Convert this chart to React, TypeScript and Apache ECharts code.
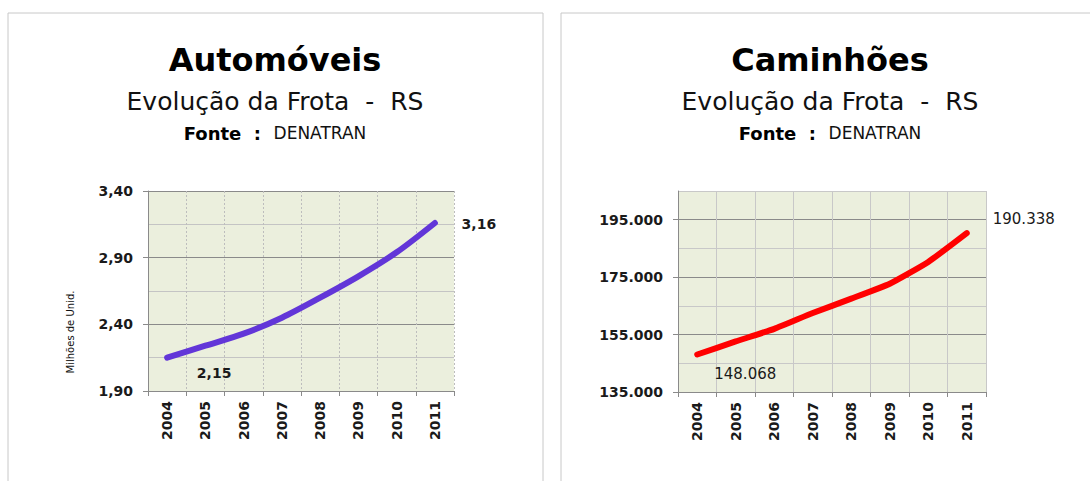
import React, { useEffect, useRef } from 'react';
import * as echarts from 'echarts';

const years = ['2004', '2005', '2006', '2007', '2008', '2009', '2010', '2011'];
const autoValues = [2.15, 2.24, 2.33, 2.45, 2.6, 2.76, 2.94, 3.16];
const truckValues = [148068, 152600, 157000, 162500, 167500, 172700, 180300, 190338];
const autoTickValues = [1.9, 2.4, 2.9, 3.4];
const truckTickValues = [135000, 155000, 175000, 195000];
const autoTitle = 'Automóveis';
const truckTitle = 'Caminhões';
const subtitleText = 'Evolução da Frota  -  RS';
const sourceLabel = 'Fonte';
const sourceName = 'DENATRAN';
const autoAxisName = 'Milhões de Unid.';

const FONT = '"DejaVu Sans", Verdana, sans-serif';

const fmtDec = (v: number) => v.toFixed(2).replace('.', ',');
const fmtThousands = (v: number) => {
  const s = Math.round(v).toString();
  return s.replace(/\B(?=(\d{3})+(?!\d))/g, '.');
};

function titleBlock(cx: number, title: string) {
  return [
    {
      type: 'text',
      x: cx,
      y: 60,
      style: {
        text: title,
        font: `bold 32px ${FONT}`,
        fill: '#000',
        textAlign: 'center',
        textVerticalAlign: 'middle',
        align: 'center',
        verticalAlign: 'middle',
      },
    },
    {
      type: 'text',
      x: cx,
      y: 101,
      style: {
        text: subtitleText,
        font: `25px ${FONT}`,
        fill: '#111',
        textAlign: 'center',
        textVerticalAlign: 'middle',
        align: 'center',
        verticalAlign: 'middle',
      },
    },
    {
      type: 'text',
      x: cx,
      y: 133,
      style: {
        text: `{b|${sourceLabel}}{b|  :  }{r|${sourceName}}`,
        textAlign: 'center',
        textVerticalAlign: 'middle',
        align: 'center',
        verticalAlign: 'middle',
        rich: {
          b: { fontFamily: FONT, fontWeight: 'bold', fontSize: 18, fill: '#000', color: '#000' },
          r: { fontFamily: FONT, fontSize: 17, fill: '#111', color: '#111' },
        },
      },
    },
  ];
}

function edgeLabels(values: number[], fmt: (v: number) => string, first: number[], last: number[], font: any) {
  return values.map((v, i) => {
    if (i === 0 || i === values.length - 1) {
      return {
        value: v,
        label: {
          show: true,
          position: 'inside',
          offset: i === 0 ? first : last,
          formatter: () => fmt(v),
          ...font,
        },
      };
    }
    return { value: v };
  });
}

export default function App() {
  const ref = useRef<HTMLDivElement>(null);

  useEffect(() => {
    if (!ref.current) return;
    const chart = echarts.init(ref.current, null, { renderer: 'svg' });

    const xAxisBase = (gridIndex: number, dotted: boolean) => ({
      type: 'category',
      gridIndex,
      data: years,
      boundaryGap: true,
      axisLine: { show: true, lineStyle: { color: '#8a8a8a', width: 1 } },
      axisTick: { show: true, length: 5, lineStyle: { color: '#8a8a8a' } },
      axisLabel: {
        rotate: 90,
        margin: 10,
        color: '#1a1a1a',
        fontFamily: FONT,
        fontWeight: 'bold',
        fontSize: 14,
      },
      splitLine: {
        show: true,
        lineStyle: dotted
          ? { color: '#bdbdbd', type: [2, 2], width: 1 }
          : { color: '#c8c8c8', type: 'solid', width: 1 },
      },
    });

    const option: any = {
      animation: false,
      backgroundColor: '#ffffff',
      graphic: [
        {
          type: 'rect',
          shape: { x: 8, y: 13, width: 535, height: 490 },
          style: { fill: 'none', stroke: '#c8c8c8', lineWidth: 1 },
          z: -10,
        },
        {
          type: 'rect',
          shape: { x: 561, y: 13, width: 560, height: 490 },
          style: { fill: 'none', stroke: '#c8c8c8', lineWidth: 1 },
          z: -10,
        },
        ...titleBlock(275, autoTitle),
        ...titleBlock(830, truckTitle),
        {
          type: 'text',
          x: 70,
          y: 332,
          rotation: Math.PI / 2,
          style: {
            text: autoAxisName,
            font: `10px ${FONT}`,
            fill: '#111',
            textAlign: 'center',
            textVerticalAlign: 'middle',
            align: 'center',
            verticalAlign: 'middle',
          },
        },
      ],
      grid: [
        {
          left: 148,
          top: 191,
          width: 306,
          height: 200,
          show: true,
          backgroundColor: '#ebefdd',
          borderWidth: 0,
        },
        {
          left: 678,
          top: 191,
          width: 308,
          height: 201,
          show: true,
          backgroundColor: '#ebefdd',
          borderWidth: 0,
        },
      ],
      xAxis: [xAxisBase(0, true), xAxisBase(1, false)],
      yAxis: [
        {
          type: 'value',
          gridIndex: 0,
          position: 'left',
          min: 1.9,
          max: 3.4,
          interval: 0.25,
          axisLine: { show: false },
          axisTick: { show: false },
          axisLabel: { show: false },
          splitLine: { show: true, lineStyle: { color: ['#8a8a8a', '#c4c4c4'], width: 1 } },
        },
        {
          type: 'value',
          gridIndex: 0,
          position: 'left',
          offset: 0,
          min: 1.9,
          max: 3.4,
          interval: 0.5,
          axisLine: { show: true, lineStyle: { color: '#8a8a8a', width: 1 } },
          axisTick: { show: true, length: 5, lineStyle: { color: '#8a8a8a' }, customValues: autoTickValues },
          axisLabel: {
            margin: 15,
            color: '#1a1a1a',
            fontFamily: FONT,
            fontWeight: 'bold',
            fontSize: 14,
            customValues: autoTickValues,
            formatter: (v: number) => fmtDec(v),
          },
          splitLine: { show: false },
        },
        {
          type: 'value',
          gridIndex: 1,
          position: 'left',
          min: 135000,
          max: 205000,
          interval: 10000,
          axisLine: { show: false },
          axisTick: { show: false },
          axisLabel: { show: false },
          splitLine: { show: true, lineStyle: { color: ['#8a8a8a', '#c8c8c8'], width: 1 } },
        },
        {
          type: 'value',
          gridIndex: 1,
          position: 'left',
          offset: 0,
          min: 135000,
          max: 205000,
          interval: 20000,
          axisLine: { show: true, lineStyle: { color: '#8a8a8a', width: 1 } },
          axisTick: { show: true, length: 5, lineStyle: { color: '#8a8a8a' }, customValues: truckTickValues },
          axisLabel: {
            margin: 15,
            color: '#1a1a1a',
            fontFamily: FONT,
            fontWeight: 'bold',
            fontSize: 14,
            customValues: truckTickValues,
            formatter: (v: number) => fmtThousands(v),
          },
          splitLine: { show: false },
        },
      ],
      series: [
        {
          type: 'line',
          xAxisIndex: 0,
          yAxisIndex: 1,
          smooth: 0.3,
          symbol: 'circle',
          symbolSize: 1,
          showSymbol: true,
          itemStyle: { color: '#6236d8' },
          lineStyle: { color: '#6236d8', width: 6, cap: 'round', join: 'round' },
          data: edgeLabels(autoValues, fmtDec, [47, 15], [44, 1], {
            fontFamily: FONT,
            fontWeight: 'bold',
            fontSize: 14,
            color: '#1a1a1a',
          }),
          z: 5,
        },
        {
          type: 'line',
          xAxisIndex: 1,
          yAxisIndex: 3,
          smooth: 0.15,
          symbol: 'circle',
          symbolSize: 1,
          showSymbol: true,
          itemStyle: { color: '#ff0000' },
          lineStyle: { color: '#ff0000', width: 6, cap: 'round', join: 'round' },
          data: edgeLabels(truckValues, fmtThousands, [48, 20], [57, -14], {
            fontFamily: FONT,
            fontSize: 15,
            color: '#1a1a1a',
          }),
          z: 5,
        },
      ],
    };

    chart.setOption(option);
    return () => chart.dispose();
  }, []);

  return (
    <div
      ref={ref}
      style={{ position: 'fixed', left: 0, top: 0, width: 1090, height: 481, background: '#fff' }}
    />
  );
}
